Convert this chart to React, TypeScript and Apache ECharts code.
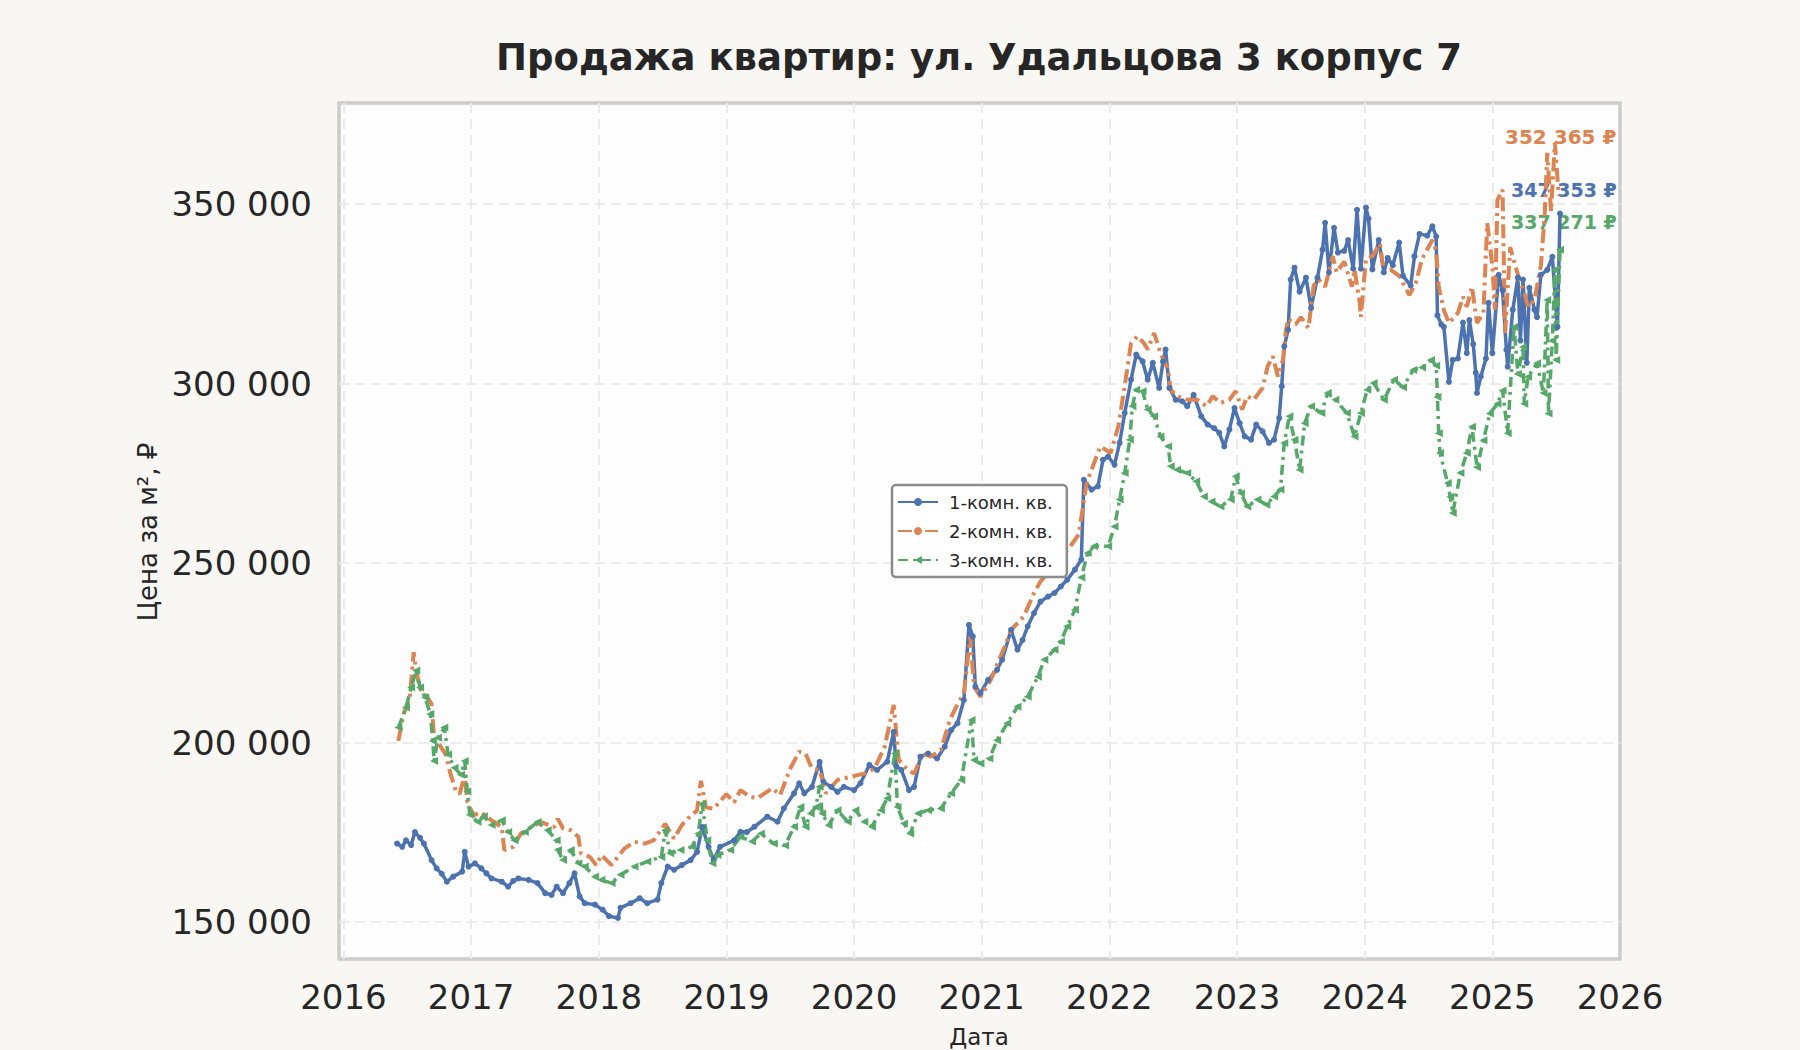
import { useEffect, useRef } from 'react'
import * as echarts from 'echarts'

// [year, price per m²]
const oneRoom: [number, number][] = [
  [2016.42, 171900], [2016.46, 171000], [2016.49, 172800], [2016.53, 171500], [2016.56, 175100],
  [2016.6, 173500], [2016.63, 171900], [2016.69, 167300], [2016.73, 165000], [2016.77, 163500],
  [2016.81, 161300], [2016.86, 162700], [2016.93, 164100], [2016.95, 169600], [2016.98, 165500],
  [2017.03, 166400], [2017.08, 165000], [2017.12, 163600], [2017.16, 162200], [2017.24, 161300],
  [2017.29, 159900], [2017.33, 161500], [2017.37, 162200], [2017.45, 161800], [2017.52, 160900],
  [2017.58, 158100], [2017.63, 157600], [2017.67, 159900], [2017.72, 158100], [2017.77, 160900],
  [2017.81, 163600], [2017.85, 157200], [2017.89, 155300], [2017.97, 154900], [2018.03, 153500],
  [2018.08, 151700], [2018.15, 151200], [2018.17, 154000], [2018.25, 155300], [2018.32, 156700],
  [2018.38, 155300], [2018.46, 156300], [2018.49, 160900], [2018.54, 165500], [2018.59, 164600],
  [2018.65, 165900], [2018.72, 167300], [2018.77, 169600], [2018.81, 176500], [2018.86, 171000],
  [2018.9, 167300], [2018.95, 171000], [2019.06, 172800], [2019.11, 175200], [2019.16, 175100],
  [2019.22, 176600], [2019.32, 179400], [2019.4, 178000], [2019.45, 181700], [2019.53, 185900],
  [2019.57, 188700], [2019.61, 185900], [2019.67, 187700], [2019.73, 194700], [2019.76, 189100],
  [2019.82, 187700], [2019.87, 186300], [2019.92, 187700], [2020.0, 186800], [2020.05, 188700],
  [2020.12, 193800], [2020.18, 192400], [2020.26, 194700], [2020.31, 203000], [2020.33, 193500],
  [2020.37, 192400], [2020.43, 186800], [2020.47, 187700], [2020.52, 196100], [2020.58, 197000],
  [2020.65, 195600], [2020.71, 198900], [2020.76, 203500], [2020.81, 205400], [2020.86, 211900],
  [2020.9, 232800], [2020.93, 229600], [2020.95, 215600], [2020.99, 213800], [2021.05, 217500],
  [2021.12, 220300], [2021.16, 223100], [2021.23, 231400], [2021.28, 225900], [2021.32, 228600],
  [2021.36, 232400], [2021.41, 236100], [2021.46, 239300], [2021.52, 240700], [2021.57, 241700],
  [2021.62, 243500], [2021.67, 245400], [2021.73, 248200], [2021.78, 251000], [2021.8, 273200],
  [2021.86, 270500], [2021.91, 271400], [2021.95, 278800], [2021.99, 279700], [2022.04, 277400],
  [2022.08, 283500], [2022.12, 291800], [2022.17, 301100], [2022.21, 308100], [2022.26, 306200],
  [2022.3, 301100], [2022.34, 305800], [2022.39, 298800], [2022.42, 306200], [2022.44, 309500],
  [2022.47, 298800], [2022.52, 295500], [2022.57, 295100], [2022.61, 293700], [2022.66, 296900],
  [2022.72, 290900], [2022.77, 288600], [2022.82, 287600], [2022.86, 286300], [2022.9, 282500],
  [2022.94, 287200], [2022.98, 293200], [2023.02, 289000], [2023.06, 285300], [2023.11, 284400],
  [2023.15, 288600], [2023.2, 286700], [2023.25, 283500], [2023.29, 284400], [2023.33, 290400],
  [2023.35, 299300], [2023.37, 310400], [2023.4, 315000], [2023.42, 329000], [2023.45, 332300],
  [2023.49, 325600], [2023.54, 329500], [2023.58, 321100], [2023.63, 329500], [2023.67, 337300],
  [2023.69, 344800], [2023.72, 331000], [2023.76, 343400], [2023.79, 336500], [2023.84, 337000],
  [2023.87, 340000], [2023.91, 332000], [2023.94, 348400], [2023.97, 332000], [2024.01, 349000],
  [2024.03, 346000], [2024.06, 331800], [2024.11, 340000], [2024.15, 331000], [2024.18, 335000],
  [2024.22, 333000], [2024.27, 339300], [2024.3, 330000], [2024.36, 327300], [2024.39, 335500],
  [2024.43, 341700], [2024.49, 341200], [2024.53, 343800], [2024.56, 341000], [2024.57, 319000],
  [2024.6, 316500], [2024.62, 315800],
  [2024.66, 300500], [2024.69, 306600], [2024.73, 307000], [2024.77, 317000], [2024.8, 308500],
  [2024.82, 317700], [2024.85, 311000], [2024.87, 303000], [2024.88, 297400], [2024.91, 302000],
  [2024.95, 307000], [2024.97, 322500], [2025.0, 308500], [2025.05, 330300], [2025.08, 326000],
  [2025.11, 309400], [2025.12, 304700], [2025.16, 320600], [2025.2, 329500], [2025.22, 312000],
  [2025.24, 329000], [2025.27, 305800], [2025.29, 326700], [2025.33, 320600], [2025.35, 318500],
  [2025.38, 330300], [2025.43, 331700], [2025.47, 335300], [2025.51, 315800], [2025.53, 347353],
]

const twoRoom: [number, number][] = [
  [2016.43, 200500], [2016.47, 207900], [2016.52, 212600], [2016.55, 225200], [2016.57, 220100],
  [2016.6, 215000], [2016.64, 213600], [2016.69, 210800], [2016.71, 201400], [2016.76, 199000],
  [2016.8, 196800], [2016.84, 191100], [2016.88, 186700], [2016.91, 185700], [2016.95, 191100],
  [2016.97, 183600], [2017.02, 179700], [2017.07, 180700], [2017.16, 178400], [2017.24, 176500],
  [2017.26, 170100], [2017.33, 171000], [2017.39, 174700], [2017.47, 176500], [2017.55, 177900],
  [2017.65, 176500], [2017.68, 178800], [2017.72, 176100], [2017.78, 175600], [2017.84, 173800],
  [2017.86, 169200], [2017.93, 168200], [2017.98, 165900], [2018.02, 168700], [2018.1, 165900],
  [2018.15, 168200], [2018.2, 170500], [2018.28, 172400], [2018.36, 171900], [2018.43, 172800],
  [2018.52, 177400], [2018.59, 173300], [2018.65, 177000], [2018.72, 179700], [2018.77, 181100],
  [2018.8, 189400], [2018.84, 182000], [2018.9, 181600], [2019.0, 185700], [2019.06, 183400],
  [2019.11, 186800], [2019.18, 185000], [2019.24, 184500], [2019.36, 187300], [2019.42, 185400],
  [2019.5, 192800], [2019.57, 197500], [2019.62, 197000], [2019.67, 192800], [2019.73, 192400],
  [2019.78, 185900], [2019.87, 189600], [2019.97, 190500], [2020.08, 191400], [2020.16, 192800],
  [2020.24, 198900], [2020.31, 210500], [2020.35, 195200], [2020.42, 192400], [2020.47, 191400],
  [2020.54, 197000], [2020.6, 196100], [2020.68, 198000], [2020.75, 206300], [2020.8, 210000],
  [2020.86, 213800], [2020.91, 229600], [2020.94, 215600], [2020.99, 212800], [2021.07, 217500],
  [2021.18, 226800], [2021.23, 231400], [2021.33, 235200], [2021.41, 241700], [2021.46, 244900],
  [2021.54, 248200], [2021.62, 251400], [2021.7, 255000], [2021.76, 258000], [2021.82, 272000],
  [2021.88, 277900], [2021.93, 282500], [2022.01, 280700], [2022.07, 288100], [2022.12, 299300],
  [2022.17, 311300], [2022.22, 313200], [2022.27, 311300], [2022.3, 309500], [2022.35, 314100],
  [2022.4, 308500], [2022.46, 303900], [2022.48, 298300], [2022.53, 296500], [2022.61, 295500],
  [2022.69, 295500], [2022.76, 293700], [2022.81, 296500], [2022.87, 294600], [2022.94, 295500],
  [2022.99, 297900], [2023.04, 292800], [2023.08, 296500], [2023.13, 295500], [2023.2, 298800],
  [2023.24, 304800], [2023.28, 307600], [2023.32, 302000], [2023.36, 306700], [2023.38, 314100],
  [2023.4, 318000], [2023.46, 316500], [2023.5, 318500], [2023.56, 315500], [2023.6, 327300],
  [2023.64, 329000], [2023.69, 327000], [2023.75, 335500], [2023.78, 331000], [2023.84, 334000],
  [2023.9, 327000], [2023.92, 331800], [2023.96, 323000], [2023.97, 318600], [2024.01, 334800],
  [2024.06, 335500], [2024.12, 339000], [2024.15, 331000], [2024.2, 331800], [2024.27, 330000],
  [2024.35, 324700], [2024.4, 328000], [2024.45, 334800], [2024.53, 340000], [2024.56, 337000],
  [2024.58, 327000], [2024.62, 320500],
  [2024.66, 316900], [2024.73, 319700], [2024.77, 324200], [2024.8, 321400], [2024.84, 327000],
  [2024.88, 316900], [2024.93, 319700], [2024.96, 344700], [2025.0, 332800], [2025.02, 320600],
  [2025.04, 351200], [2025.08, 354000], [2025.1, 314100], [2025.14, 338000], [2025.18, 332800],
  [2025.21, 329100], [2025.25, 325300], [2025.28, 321400], [2025.33, 323300], [2025.38, 332800],
  [2025.41, 346700], [2025.43, 364300], [2025.46, 348000], [2025.49, 367100], [2025.52, 352365],
]

const threeRoom: [number, number][] = [
  [2016.43, 204200], [2016.49, 209800], [2016.53, 215400], [2016.57, 220100], [2016.6, 215400],
  [2016.64, 212600], [2016.68, 208000], [2016.7, 200500], [2016.71, 194900], [2016.74, 201400],
  [2016.79, 204200], [2016.82, 196700], [2016.87, 193000], [2016.92, 191100], [2016.95, 194900],
  [2016.97, 186400], [2016.99, 179900], [2017.05, 178000], [2017.1, 179500], [2017.16, 177100],
  [2017.24, 178400], [2017.29, 175100], [2017.34, 172800], [2017.42, 175100], [2017.52, 177900],
  [2017.6, 175600], [2017.67, 172800], [2017.68, 170100], [2017.72, 167300], [2017.78, 170100],
  [2017.84, 166400], [2017.89, 165500], [2017.97, 162700], [2018.02, 161800], [2018.1, 160900],
  [2018.17, 163200], [2018.28, 165500], [2018.38, 166900], [2018.49, 168200], [2018.52, 175600],
  [2018.56, 169200], [2018.64, 170100], [2018.73, 171000], [2018.78, 174700], [2018.81, 183000],
  [2018.85, 172800], [2018.89, 166400], [2018.93, 168700], [2019.03, 170100], [2019.11, 173800],
  [2019.2, 172500], [2019.27, 174700], [2019.37, 171900], [2019.46, 171400], [2019.53, 176600],
  [2019.58, 182100], [2019.62, 176600], [2019.66, 180300], [2019.7, 182100], [2019.73, 187700],
  [2019.75, 180300], [2019.8, 177000], [2019.87, 181200], [2019.95, 178000], [2020.01, 181200],
  [2020.08, 178000], [2020.14, 176600], [2020.21, 181200], [2020.26, 184500], [2020.32, 197000],
  [2020.34, 182100], [2020.39, 177500], [2020.44, 174700], [2020.5, 180300], [2020.58, 181200],
  [2020.68, 181700], [2020.76, 185900], [2020.84, 189600], [2020.92, 206300], [2020.94, 195200],
  [2020.99, 194200], [2021.06, 195600], [2021.12, 200700], [2021.2, 205400], [2021.28, 210000],
  [2021.36, 212800], [2021.44, 218400], [2021.49, 223100], [2021.57, 225900], [2021.62, 228200],
  [2021.67, 232400], [2021.73, 237000], [2021.78, 246000], [2021.83, 252800], [2021.88, 254700],
  [2021.99, 254700], [2022.04, 260200], [2022.08, 267700], [2022.12, 275100], [2022.16, 284400],
  [2022.18, 293700], [2022.21, 298300], [2022.26, 297900], [2022.3, 292800], [2022.35, 290900],
  [2022.4, 285300], [2022.46, 282500], [2022.48, 277000], [2022.53, 276000], [2022.61, 275100],
  [2022.68, 272800], [2022.74, 268600], [2022.8, 267200], [2022.87, 265800], [2022.95, 267700],
  [2022.99, 274200], [2023.03, 269500], [2023.08, 265800], [2023.16, 267700], [2023.23, 266300],
  [2023.29, 268600], [2023.34, 270500], [2023.37, 283500], [2023.41, 290900], [2023.45, 284400],
  [2023.49, 276000], [2023.53, 289000], [2023.58, 293700], [2023.66, 291800], [2023.71, 297400],
  [2023.77, 295500], [2023.86, 291800], [2023.92, 285300], [2023.97, 291800], [2024.02, 298300],
  [2024.07, 300200], [2024.15, 295500], [2024.23, 301100], [2024.3, 299000], [2024.38, 303800],
  [2024.45, 304500], [2024.52, 306600], [2024.56, 305000], [2024.57, 296300], [2024.58, 286200],
  [2024.59, 280700], [2024.65, 272300], [2024.67, 268500], [2024.69, 264000], [2024.75, 275100],
  [2024.8, 280700], [2024.84, 288000], [2024.88, 276700], [2024.93, 284200], [2024.98, 291700],
  [2025.04, 294400], [2025.08, 298100], [2025.12, 286200], [2025.17, 315800], [2025.2, 302700],
  [2025.24, 310200], [2025.25, 294400], [2025.28, 301900], [2025.35, 305700], [2025.4, 297400],
  [2025.43, 323300], [2025.44, 291700], [2025.47, 311900], [2025.49, 331700], [2025.5, 306600],
  [2025.53, 337271],
]

const seriesNames = ['1-комн. кв.', '2-комн. кв.', '3-комн. кв.']
const colors = ['#4C72B0', '#DD8452', '#55A868']

const FONT = '"DejaVu Sans", sans-serif'

const fmt = (v: number) => String(Math.round(v)).replace(/\B(?=(\d{3})+(?!\d))/g, ' ')
const last = (s: [number, number][]) => s[s.length - 1][1]

export default function App() {
  const chartRef = useRef<HTMLDivElement>(null)

  useEffect(() => {
    if (!chartRef.current) return
    const chart = echarts.init(chartRef.current, null, { renderer: 'svg' })

    const splitLine = {
      show: true,
      showMinLine: false,
      showMaxLine: false,
      lineStyle: { color: '#ebebeb', width: 2, type: [10, 6] as number[] },
    }

    chart.setOption({
      animation: false,
      backgroundColor: '#f8f7f3',
      grid: {
        left: 339,
        right: 180,
        top: 103,
        bottom: 91,
        show: true,
        backgroundColor: '#fdfdfd',
        borderColor: '#cccccc',
        borderWidth: 3.5,
      },
      xAxis: {
        type: 'value',
        // axis starts slightly before 2016 (matplotlib date margin)
        min: 2015.965,
        max: 2026,
        splitNumber: 10,
        axisLine: { show: false },
        axisTick: { show: false },
        axisLabel: {
          color: '#262626',
          fontSize: 34,
          fontFamily: FONT,
          margin: 21,
          showMinLabel: false,
          formatter: (v: number) => String(Math.round(v)),
        },
        splitLine,
      },
      yAxis: {
        type: 'value',
        min: 139760,
        max: 378160,
        axisLine: { show: false },
        axisTick: { show: false },
        axisLabel: {
          color: '#262626',
          fontSize: 34,
          fontFamily: FONT,
          margin: 27,
          showMinLabel: false,
          showMaxLabel: false,
          formatter: (v: number) => fmt(v),
        },
        splitLine,
      },
      legend: {
        orient: 'vertical',
        left: 892,
        top: 485,
        backgroundColor: '#ffffff',
        borderColor: '#8c8c8c',
        borderWidth: 2.5,
        borderRadius: 4,
        padding: [8, 14, 8, 5],
        itemWidth: 40,
        itemHeight: 10,
        itemGap: 11,
        textStyle: { fontSize: 18, color: '#262626', fontFamily: FONT, lineHeight: 18, padding: [0, 0, 0, 6] },
        data: seriesNames,
      },
      graphic: [
        {
          type: 'text',
          x: 979,
          y: 57,
          style: {
            text: 'Продажа квартир: ул. Удальцова 3 корпус 7',
            fontSize: 37,
            fontWeight: 'bold',
            fontFamily: FONT,
            fill: '#262626',
            align: 'center',
            verticalAlign: 'middle',
          },
        },
        {
          type: 'text',
          x: 979,
          y: 1037,
          style: { text: 'Дата', fontSize: 23, fontFamily: FONT, fill: '#262626', align: 'center', verticalAlign: 'middle' },
        },
        {
          type: 'text',
          x: 148,
          y: 532,
          rotation: Math.PI / 2,
          style: { text: 'Цена за м², ₽', fontSize: 26, fontFamily: FONT, fill: '#262626', align: 'center', verticalAlign: 'middle' },
        },
        {
          type: 'text',
          x: 1505,
          y: 137,
          style: { text: `${fmt(last(twoRoom))} ₽`, fontSize: 20, fontWeight: 'bold', fontFamily: FONT, fill: colors[1], verticalAlign: 'middle' },
        },
        {
          type: 'text',
          x: 1511,
          y: 190,
          style: { text: `${fmt(last(oneRoom))} ₽`, fontSize: 19, fontWeight: 'bold', fontFamily: FONT, fill: colors[0], verticalAlign: 'middle' },
        },
        {
          type: 'text',
          x: 1511,
          y: 222,
          style: { text: `${fmt(last(threeRoom))} ₽`, fontSize: 19, fontWeight: 'bold', fontFamily: FONT, fill: colors[2], verticalAlign: 'middle' },
        },
      ],
      series: [
        {
          name: seriesNames[0],
          type: 'line',
          data: oneRoom,
          symbol: 'circle',
          symbolSize: 6,
          color: colors[0],
          lineStyle: { color: colors[0], width: 3.5 },
          itemStyle: { color: colors[0] },
          emphasis: { disabled: true },
        },
        {
          name: seriesNames[1],
          type: 'line',
          data: twoRoom,
          symbol: 'none',
          color: colors[1],
          lineStyle: { color: colors[1], width: 4, type: [14, 5, 3, 5] },
          itemStyle: { color: colors[1] },
          emphasis: { disabled: true },
        },
        {
          name: seriesNames[2],
          type: 'line',
          data: threeRoom,
          symbol: 'triangle',
          symbolRotate: 90,
          symbolSize: 8,
          color: colors[2],
          lineStyle: { color: colors[2], width: 3.5, type: [10, 5, 3, 5] },
          itemStyle: { color: colors[2] },
          emphasis: { disabled: true },
        },
      ],
    })

    return () => {
      chart.dispose()
    }
  }, [])

  return (
    <div
      ref={chartRef}
      style={{ position: 'fixed', left: 0, top: 0, width: 1800, height: 1050 }}
    />
  )
}
